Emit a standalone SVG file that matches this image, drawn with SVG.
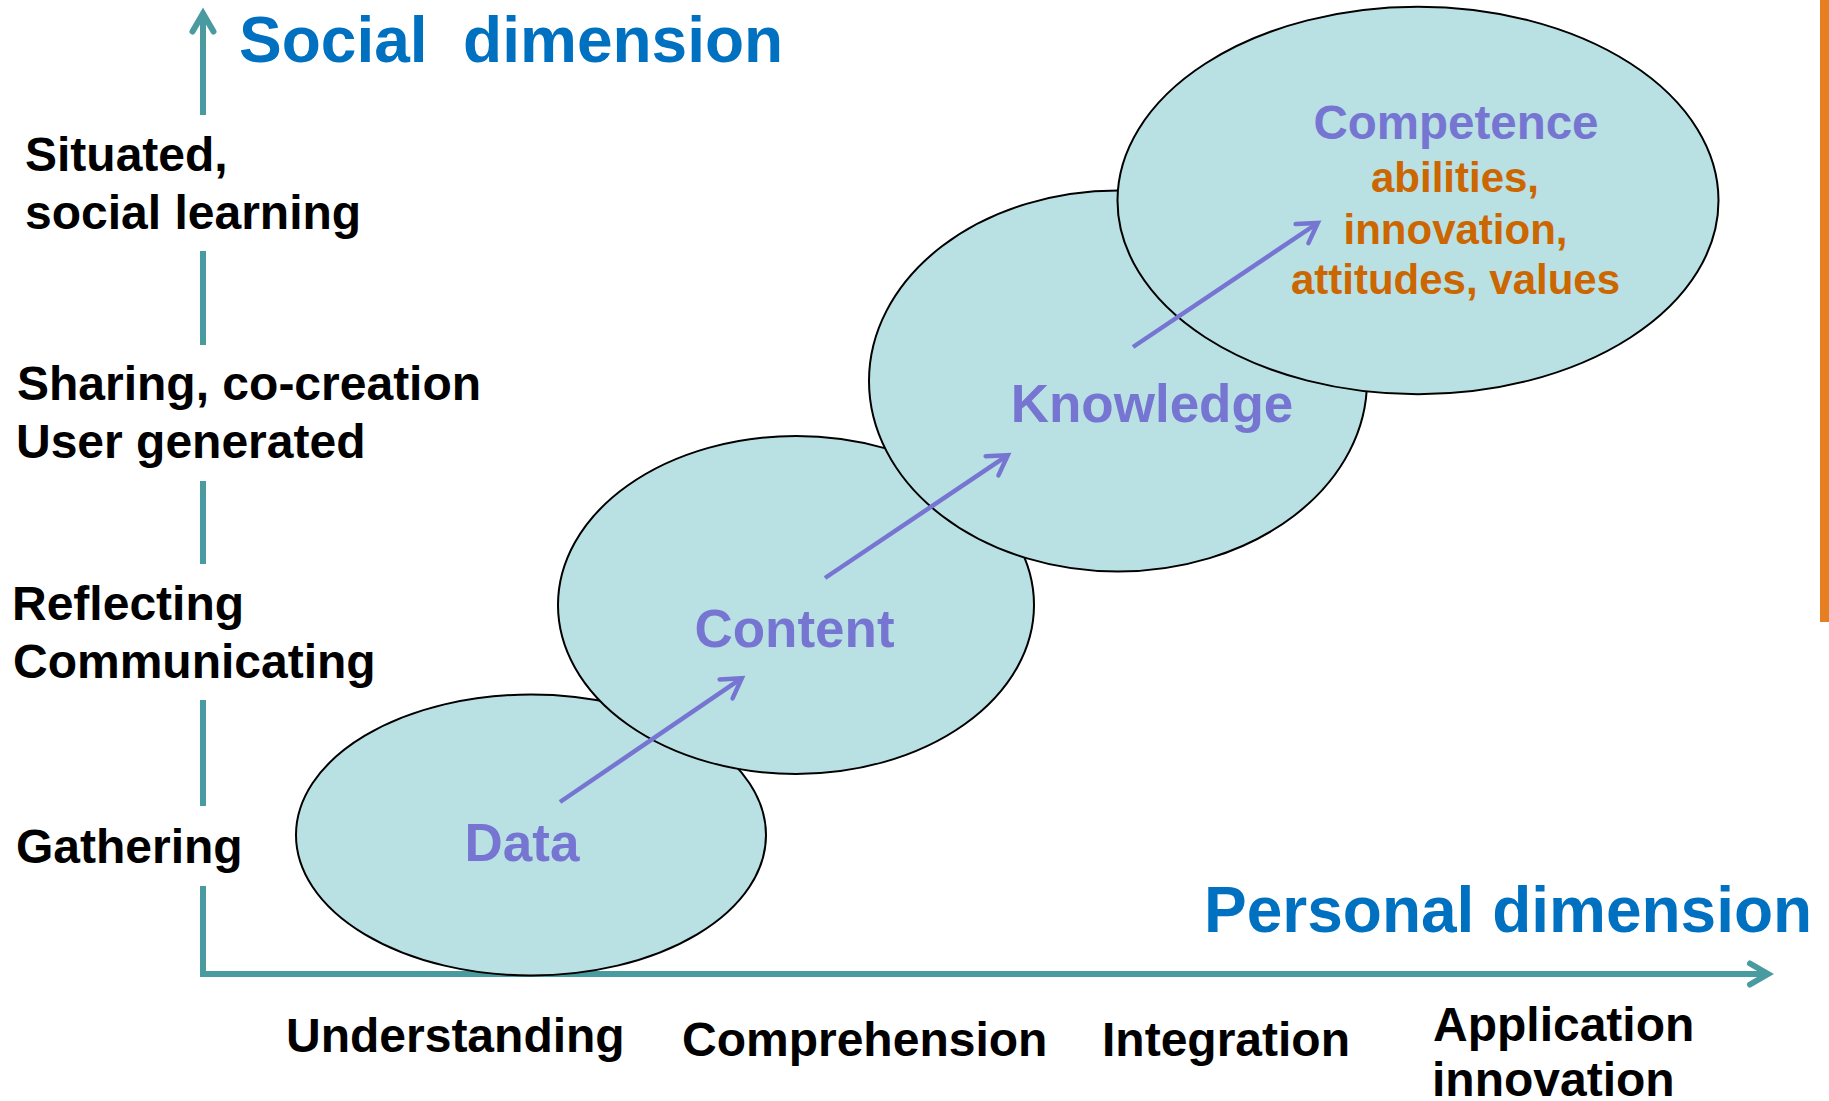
<svg xmlns="http://www.w3.org/2000/svg" width="1829" height="1101" viewBox="0 0 1829 1101">
<style>
text{font-family:"Liberation Sans",Arial,sans-serif;font-weight:bold}
.lbl{font-size:48px;fill:#000}
.dim{font-size:64px;fill:#0070C0}
.node{font-size:53px;fill:#7676D2;text-anchor:middle}
.comp{font-size:47.5px;fill:#7676D2;text-anchor:middle}
.sub{font-size:42px;fill:#CC6600;text-anchor:middle}
.ell{fill:#B9E0E3;stroke:#000;stroke-width:2}
.axis{fill:none;stroke:#4A9BA0;stroke-width:6}
.flow{fill:none;stroke:#7676D2;stroke-width:4.5}
</style>
<defs>
<marker id="axisHead" markerUnits="userSpaceOnUse" orient="auto" refX="0" refY="0" markerWidth="60" markerHeight="60" viewBox="-30 -30 60 60" overflow="visible">
<path d="M-18,-10.5 L0,0 L-18,10.5" fill="none" stroke="#4A9BA0" stroke-width="6" stroke-linecap="round" stroke-linejoin="miter"/>
</marker>
<marker id="flowHead" markerUnits="userSpaceOnUse" orient="auto" refX="0" refY="0" markerWidth="60" markerHeight="60" viewBox="-30 -30 60 60" overflow="visible">
<path d="M-19,-11.5 L0,0 L-19,11.5" fill="none" stroke="#7676D2" stroke-width="4.5" stroke-linecap="round" stroke-linejoin="miter"/>
</marker>
</defs>
<rect width="1829" height="1101" fill="#fff"/>
<rect id="orange-bar" x="1820" y="0" width="9" height="622" fill="#E67E22"/>
<g id="axes">
<path class="axis" d="M203,115 V13.5" marker-end="url(#axisHead)"/>
<path class="axis" d="M203,251 V345"/>
<path class="axis" d="M203,481 V564"/>
<path class="axis" d="M203,700 V806"/>
<path class="axis" d="M203,886 V977"/>
<path class="axis" d="M200,974 H1768" marker-end="url(#axisHead)"/>
<text class="dim" x="239" y="62">Social&#160;&#160;dimension</text>
<text class="dim" x="1204" y="932">Personal dimension</text>
</g>
<g id="social-labels">
<text class="lbl" x="25" y="171">Situated,</text>
<text class="lbl" x="25" y="229">social learning</text>
<text class="lbl" x="17" y="400">Sharing, co-creation</text>
<text class="lbl" x="16" y="458">User generated</text>
<text class="lbl" x="12" y="620">Reflecting</text>
<text class="lbl" x="13" y="678">Communicating</text>
<text class="lbl" x="16" y="863">Gathering</text>
</g>
<g id="personal-labels">
<text class="lbl" x="286" y="1052">Understanding</text>
<text class="lbl" x="682" y="1056">Comprehension</text>
<text class="lbl" x="1102" y="1056">Integration</text>
<text class="lbl" x="1433" y="1041">Application</text>
<text class="lbl" x="1432" y="1096">innovation</text>
</g>
<g id="data">
<ellipse class="ell" cx="531" cy="835" rx="235" ry="140.5"/>
<text class="node" x="522" y="861">Data</text>
</g>
<g id="content">
<ellipse class="ell" cx="796" cy="605" rx="238" ry="169"/>
<text class="node" x="794.5" y="647">Content</text>
</g>
<g id="knowledge">
<ellipse class="ell" cx="1118" cy="381" rx="249" ry="190.5"/>
<text class="node" x="1152" y="422">Knowledge</text>
</g>
<g id="competence">
<ellipse class="ell" cx="1418" cy="200.5" rx="300.5" ry="193.7"/>
<text class="comp" x="1456" y="139">Competence</text>
<text class="sub" x="1455" y="192">abilities,</text>
<text class="sub" x="1455.5" y="244">innovation,</text>
<text class="sub" x="1455.5" y="294">attitudes, values</text>
</g>
<g id="connectors">
<path class="flow" d="M560,802 L741.8,678.2" marker-end="url(#flowHead)"/>
<path class="flow" d="M825,578 L1007.8,455.2" marker-end="url(#flowHead)"/>
<path class="flow" d="M1133,347 L1317.8,223" marker-end="url(#flowHead)"/>
</g>
</svg>
